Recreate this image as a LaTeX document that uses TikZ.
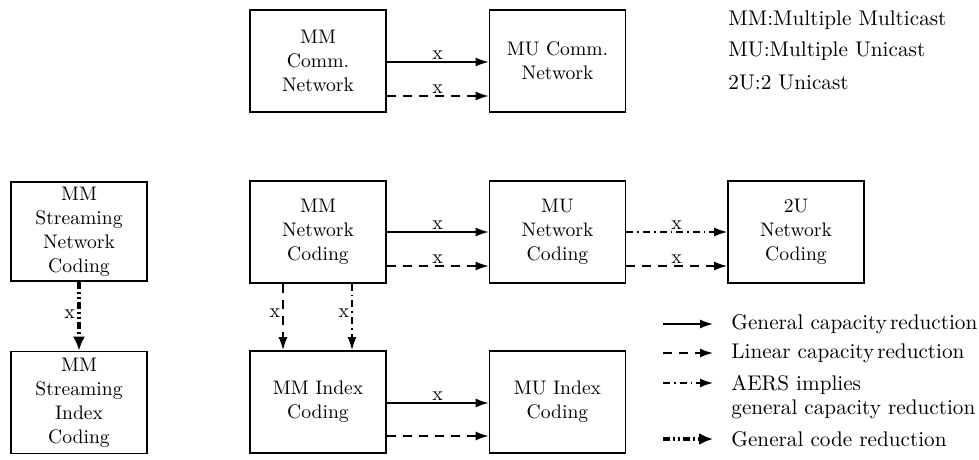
\documentclass[tikz,border=0pt]{standalone}
\usetikzlibrary{arrows.meta}
\begin{document}
\begin{tikzpicture}[x=0.5pt,y=-0.5pt,
  box/.style={draw,line width=0.8pt,minimum width=68pt,minimum height=51pt,inner sep=0pt,align=center,font=\fontsize{9.8}{12}\selectfont},
  arr/.style={line width=0.8pt,-{Latex[length=6.5pt,width=4.5pt]}},
  dsh/.style={dash pattern=on 4.5pt off 3.5pt},
  dshdot/.style={dash pattern=on 3.5pt off 2pt on 0.8pt off 2pt},
  codered/.style={line width=2pt,dash pattern=on 3.5pt off 1.5pt on 1pt off 1.5pt on 1pt off 1.5pt,-{Latex[length=7pt,width=6pt]}},
  lab/.style={font=\fontsize{10}{12}\selectfont,inner sep=1pt},
  txt/.style={font=\fontsize{10.6}{12}\selectfont,anchor=west,inner sep=0pt,align=left}]
\useasboundingbox (0,0) rectangle (979,460);
% boxes
\node[box] (mmcomm) at (318,61) {MM\\Comm.\\Network};
\node[box] (mucomm) at (557.5,61) {MU Comm.\\Network};
\node[box] (mmnc) at (318,232) {MM\\Network\\Coding};
\node[box] (munc) at (557.5,232) {MU\\Network\\Coding};
\node[box] (unc) at (796,232) {2U\\Network\\Coding};
\node[box] (mmic) at (318,402) {MM Index\\Coding};
\node[box] (muic) at (557.5,402) {MU Index\\Coding};
\node[box,minimum height=49.5pt] (mmsnc) at (79,231.5) {MM\\Streaming\\Network\\Coding};
\node[box] (mmsic) at (79,402.5) {MM\\Streaming\\Index\\Coding};
% top row arrows
\draw[arr] ([yshift=-0.5pt]mmcomm.east) -- node[lab,above] {x} ([yshift=-0.5pt]mucomm.west);
\draw[arr,dsh] ([yshift=-17.5pt]mmcomm.east) -- node[lab,above] {x} ([yshift=-17.5pt]mucomm.west);
% NC row
\draw[arr] (mmnc.east) -- node[lab,above] {x} (munc.west);
\draw[arr,dsh] ([yshift=-17pt]mmnc.east) -- node[lab,above] {x} ([yshift=-17pt]munc.west);
\draw[arr,dshdot] (munc.east) -- node[lab,above] {x} (unc.west);
\draw[arr,dsh] ([yshift=-17pt]munc.east) -- node[lab,above] {x} ([yshift=-17pt]unc.west);
% IC row
\draw[arr] ([yshift=-0.5pt]mmic.east) -- node[lab,above] {x} ([yshift=-0.5pt]muic.west);
\draw[arr,dsh] ([yshift=-17pt]mmic.east) -- ([yshift=-17pt]muic.west);
% vertical
\draw[arr,dsh] ([xshift=-17.5pt]mmnc.south) -- node[lab,left,pos=0.45] {x} ([xshift=-17.5pt]mmic.north);
\draw[arr,dshdot] ([xshift=17pt]mmnc.south) -- node[lab,left,pos=0.45] {x} ([xshift=17pt]mmic.north);
\draw[codered] (mmsnc.south) -- node[lab,left,pos=0.47] {x} (mmsic.north);
% notes
\node[txt] (n1) at (728,20) {MM:Multiple Multicast};
\node[txt] (n2) at (728,51) {MU:Multiple Unicast};
\node[txt] (n3) at (728,82) {2U:2 Unicast};
% legend
\coordinate (l1a) at (663,324); \coordinate (l1b) at (713,324);
\coordinate (l2a) at (663,353); \coordinate (l2b) at (713,353);
\coordinate (l3a) at (663,383); \coordinate (l3b) at (713,383);
\coordinate (l4a) at (663,439); \coordinate (l4b) at (713,439);
\draw[arr] (l1a) -- (l1b);
\draw[arr,dsh] (l2a) -- (l2b);
\draw[arr,dshdot] (l3a) -- (l3b);
\draw[codered] (l4a) -- (l4b);
\node[txt] (t1) at (731,324) {General capacity\hspace{1.5pt}reduction};
\node[txt] (t2) at (731,353) {Linear capacity\hspace{1.5pt}reduction};
\node[txt,anchor=north west] (t3) at (731,375) {AERS implies\\general capacity reduction};
\node[txt] (t4) at (731,439) {General code reduction};
\end{tikzpicture}
\end{document}
